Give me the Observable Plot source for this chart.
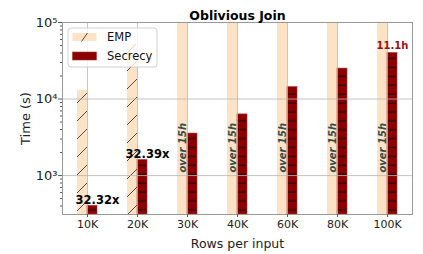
<!DOCTYPE html>
<html>
<head>
<meta charset="utf-8">
<script src="https://cdn.jsdelivr.net/npm/d3@7"></script>
<script src="https://cdn.jsdelivr.net/npm/@observablehq/plot@0.6"></script>
<style>
  body { margin: 0; background: #fff; }
  svg { font-family: "DejaVu Sans", sans-serif; }
</style>
</head>
<body>
<div id="chart"></div>
<script>
const title = "Oblivious Join";
const categories = ["10K", "20K", "30K", "40K", "60K", "80K", "100K"];
const empSeconds = [13000, 51800, null, null, null, null, null]; // null = did not finish (over 15h)
const secrecySeconds = [403, 1600, 3540, 6300, 14300, 25000, 40000];
const ratioLabels = ["32.32x", "32.39x", null, null, null, null, null];
const timeoutLabel = "over 15h";
const peakLabels = [null, null, null, null, null, null, "11.1h"];
const yTicks = [1e3, 1e4, 1e5];
const yMinorTicks = [400,500,600,700,800,900,2000,3000,4000,5000,6000,7000,8000,9000,20000,30000,40000,50000,60000,70000,80000,90000];
const yDomain = [310, 100000];
const timeoutLabelY = 1094;
const seriesNames = ["EMP", "Secrecy"];
const xLabel = "Rows per input";
const yLabel = "Time (s)";

const rows = categories.map((c, i) => ({
  cat: c, emp: empSeconds[i], sec: secrecySeconds[i],
  timeout: empSeconds[i] == null, ratio: ratioLabels[i], peak: peakLabels[i]
}));

const sup = {"0":"⁰","1":"¹","2":"²","3":"³","4":"⁴","5":"⁵","6":"⁶","7":"⁷","8":"⁸","9":"⁹"};
const fmtPow = d => "10" + String(Math.round(Math.log10(d))).split("").map(c => sup[c]).join("");

const peach = "#fde3c6";
const darkred = "#8b0000";

const chart = Plot.plot({
  width: 423,
  height: 254,
  marginLeft: 62,
  marginRight: 11,
  marginTop: 22,
  marginBottom: 40,
  style: {fontFamily: "DejaVu Sans, sans-serif", background: "white"},
  x: {type: "band", domain: categories, padding: 0},
  y: {type: "log", domain: yDomain},
  marks: [
    Plot.barY(rows.filter(d => d.timeout), {
      x: "cat", y1: () => yDomain[0], y2: () => yDomain[1],
      fill: peach, insetLeft: 15, insetRight: 25
    }),
    Plot.barY(rows.filter(d => !d.timeout), {
      x: "cat", y1: () => yDomain[0], y2: "emp",
      fill: "url(#empHatch)", insetLeft: 15, insetRight: 25, clip: true
    }),
    Plot.barY(rows, {
      x: "cat", y1: () => yDomain[0], y2: "sec",
      fill: "url(#secHatch)", stroke: "#b03a3a", strokeWidth: 0.6,
      insetLeft: 25, insetRight: 15
    }),
    Plot.gridX({stroke: "#b8b8b8", strokeOpacity: 0.8, strokeWidth: 1}),
    Plot.gridY(yTicks, {stroke: "#b8b8b8", strokeOpacity: 0.8, strokeWidth: 1}),
    Plot.frame({stroke: "#999"}),
    Plot.axisY(yMinorTicks, {tickSize: 2, tickFormat: () => "", stroke: "#555", label: null}),
    Plot.axisY(yTicks, {
      tickSize: 4, tickPadding: 1, tickFormat: fmtPow, fontSize: 13, fill: "#222", stroke: "#555",
      label: yLabel, labelAnchor: "center", labelOffset: 42, labelArrow: "none"
    }),
    Plot.axisX({
      tickSize: 3, tickPadding: 3, fontSize: 11, fill: "#222", stroke: "#555",
      label: xLabel, labelAnchor: "center", labelOffset: 33, labelArrow: "none"
    }),
    Plot.text(rows.filter(d => d.timeout), {
      x: "cat", y: () => timeoutLabelY, text: () => timeoutLabel,
      rotate: -90, textAnchor: "start", dx: -5,
      fill: "#2f4f4f", fontWeight: "bold", fontStyle: "italic", fontSize: 10
    }),
    Plot.text(rows.filter(d => d.ratio), {
      x: "cat", y: "sec", text: "ratio", dx: 10, dy: -2, lineAnchor: "bottom",
      fill: "black", fontWeight: "bold", fontSize: 11.5
    }),
    Plot.text(rows.filter(d => d.peak), {
      x: "cat", y: "sec", text: "peak", dx: 5, dy: -4, lineAnchor: "bottom",
      fill: "#9b1010", fontWeight: "bold", fontSize: 10
    }),
    Plot.text([title], {
      frameAnchor: "top", lineAnchor: "bottom", dy: -3,
      fontWeight: "bold", fontSize: 12.5, fill: "black"
    })
  ]
});

const svg = d3.select(chart);
// axis label sizes
svg.selectAll('[aria-label="y-axis label"]').attr("font-size", 13).attr("fill", "#222");
svg.selectAll('[aria-label="x-axis label"]').attr("font-size", 12.5).attr("fill", "#222");

// hatch patterns
const defs = svg.insert("defs", ":first-child");
const pe = defs.append("pattern").attr("id", "empHatch").attr("patternUnits", "userSpaceOnUse")
  .attr("width", 18).attr("height", 18);
pe.append("rect").attr("width", 18).attr("height", 18).attr("fill", peach);
pe.append("path").attr("d", "M0,18L18,0M-3,3L3,-3M15,21L21,15")
  .attr("stroke", "#3a3a3a").attr("stroke-width", 0.9);
const ps = defs.append("pattern").attr("id", "secHatch").attr("patternUnits", "userSpaceOnUse")
  .attr("width", 10).attr("height", 8.9);
ps.append("rect").attr("width", 10).attr("height", 8.9).attr("fill", darkred);
ps.append("path").attr("d", "M0,5.1H10").attr("stroke", "#111").attr("stroke-width", 1);

// legend
const lg = svg.append("g").attr("transform", "translate(68,28)")
  .attr("font-family", "DejaVu Sans, sans-serif").attr("text-anchor", "start");
lg.append("rect").attr("width", 89).attr("height", 39).attr("rx", 3)
  .attr("fill", "white").attr("fill-opacity", 0.8).attr("stroke", "#d0d0d0");
lg.append("rect").attr("x", 4.5).attr("y", 5).attr("width", 24).attr("height", 8).attr("fill", peach);
lg.append("path").attr("d", "M13.5,13.5L19.5,5").attr("stroke", "#3a3a3a").attr("stroke-width", 0.9);
lg.append("rect").attr("x", 4.5).attr("y", 24).attr("width", 24).attr("height", 8)
  .attr("fill", darkred).attr("stroke", "#b03a3a").attr("stroke-width", 0.6);
lg.append("text").attr("x", 39).attr("y", 9).attr("dy", "0.35em").attr("font-size", 11.5)
  .attr("fill", "#111").attr("text-anchor", "start").text(seriesNames[0]);
lg.append("text").attr("x", 39).attr("y", 28).attr("dy", "0.35em").attr("font-size", 11.5)
  .attr("fill", "#111").attr("text-anchor", "start").text(seriesNames[1]);

document.getElementById("chart").appendChild(chart);
</script>
</body>
</html>
